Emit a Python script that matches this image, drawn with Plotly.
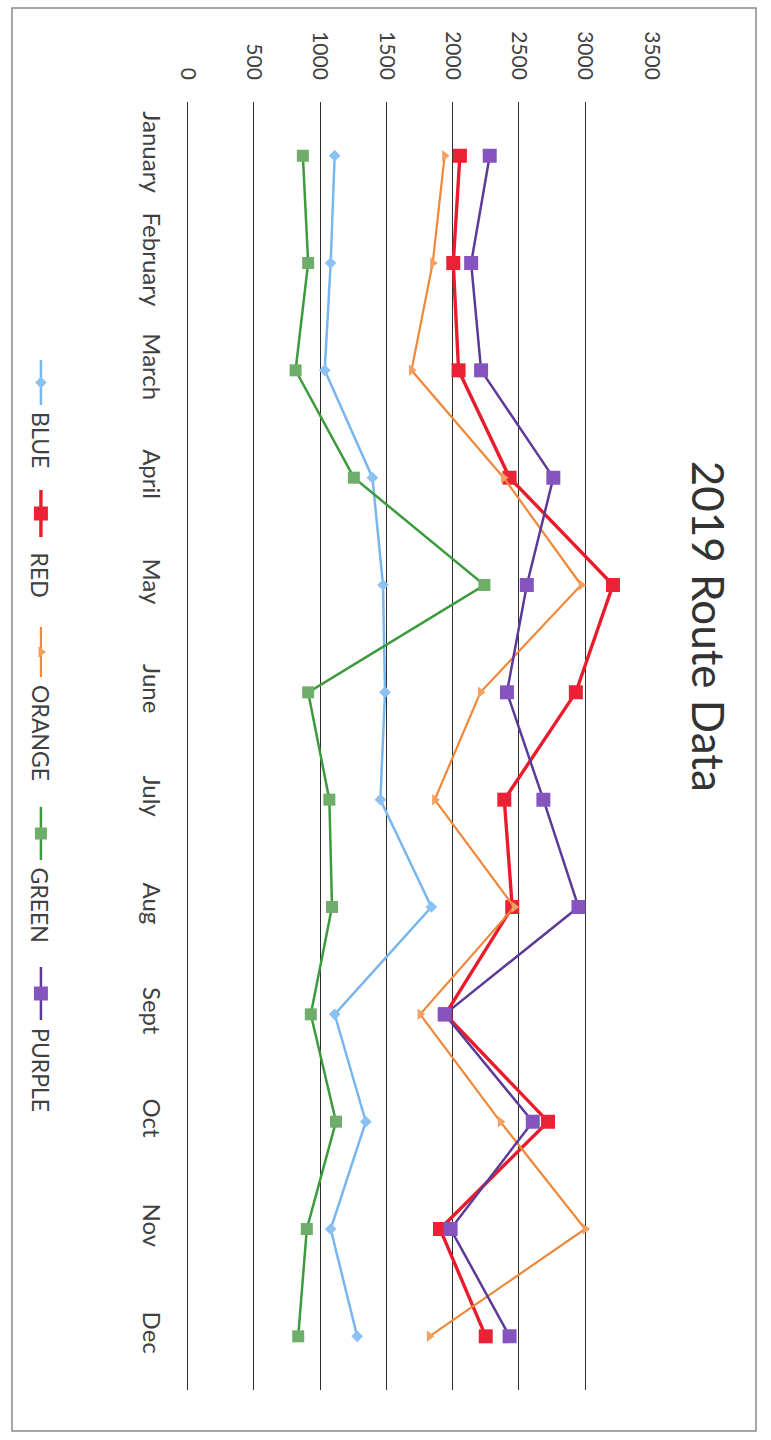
import plotly.graph_objects as go

months = ["January", "February", "March", "April", "May", "June",
          "July", "Aug", "Sept", "Oct", "Nov", "Dec"]
blue = [1110, 1080, 1035, 1395, 1475, 1490, 1455, 1840, 1110, 1345, 1080, 1280]
red = [2055, 2005, 2045, 2430, 3210, 2930, 2390, 2450, 1945, 2720, 1905, 2250]
orange = [1940, 1850, 1690, 2385, 2970, 2210, 1865, 2465, 1755, 2360, 3000, 1825]
green = [870, 910, 815, 1255, 2240, 910, 1070, 1090, 930, 1120, 900, 835]
purple = [2280, 2140, 2215, 2760, 2560, 2410, 2685, 2950, 1940, 2605, 1985, 2430]
value_ticks = [0, 500, 1000, 1500, 2000, 2500, 3000, 3500]
title_text = "2019 Route Data"

W, H = 771, 1440
FONT = "Lato"
TXT = "#404040"


def hx(px):
    # horizontal layout position (page px) -> figure px
    return (px - 10) / 0.97


series = [
    dict(name="BLUE", values=blue, line="#7ab6ee", marker="#8cc2f2", symbol="diamond", size=9, width=2.5),
    dict(name="RED", values=red, line="#e81c2c", marker="#ea2236", symbol="square", size=14, width=3.4),
    dict(name="ORANGE", values=orange, line="#ef8838", marker="#f3a060", symbol="triangle-right", size=10, width=2.2),
    dict(name="GREEN", values=green, line="#3d9a3d", marker="#6fad6a", symbol="square", size=12, width=2.5),
    dict(name="PURPLE", values=purple, line="#5b3a98", marker="#8654bf", symbol="square", size=14, width=2.5),
]

fig = go.Figure()
for s in series:
    fig.add_trace(go.Scatter(
        x=s["values"], y=months, mode="lines+markers", name=s["name"],
        line=dict(color=s["line"], width=s["width"]),
        marker=dict(symbol=s["symbol"], size=s["size"], color=s["marker"],
                    line=dict(width=0)),
        xaxis="x", yaxis="y", showlegend=False,
    ))

# legend drawn rotated, on a hidden pixel-space overlay
leg_x = hx(40)
leg_layout = [(360, 405, 410), (490, 537, 551), (627, 677, 683), (807, 860, 866), (967, 1020, 1026)]
annotations = []
for s, (a, b, t) in zip(series, leg_layout):
    fig.add_trace(go.Scatter(
        x=[leg_x, leg_x], y=[a, b], mode="lines", xaxis="x2", yaxis="y2",
        line=dict(color=s["line"], width=s["width"]), showlegend=False, hoverinfo="skip"))
    fig.add_trace(go.Scatter(
        x=[leg_x], y=[(a + b) / 2], mode="markers", xaxis="x2", yaxis="y2",
        marker=dict(symbol=s["symbol"], size=s["size"], color=s["marker"]),
        showlegend=False, hoverinfo="skip"))
    annotations.append(dict(
        x=leg_x, y=t, xref="x2", yref="y2", text=s["name"], textangle=90,
        showarrow=False, xanchor="center", yanchor="top",
        font=dict(family=FONT, size=23, color=TXT)))

annotations.append(dict(
    x=hx(710), y=626, xref="x2", yref="y2", text=title_text, textangle=90,
    showarrow=False, xanchor="center", yanchor="middle",
    font=dict(family=FONT, size=44, color="#333333")))

px_l, px_r, px_t, px_b = hx(187), hx(652), 102, 1390

fig.update_layout(
    width=W, height=H,
    margin=dict(l=0, r=0, t=0, b=0),
    paper_bgcolor="white", plot_bgcolor="rgba(0,0,0,0)",
    font=dict(family=FONT, color=TXT),
    xaxis=dict(
        domain=[px_l / W, px_r / W], range=[0, 3500], side="top",
        tickvals=value_ticks, ticktext=[str(v) for v in value_ticks],
        tickangle=90, tickfont=dict(size=21, color=TXT),
        showgrid=True, gridcolor="#2e2e2e", gridwidth=1,
        zeroline=True, zerolinecolor="#2e2e2e", zerolinewidth=1,
        showline=False, ticks="", ticklabelstandoff=18, anchor="y",
    ),
    yaxis=dict(
        domain=[1 - px_b / H, 1 - px_t / H], type="category",
        categoryorder="array", categoryarray=months,
        range=[11.5, -0.5], tickangle=90, tickfont=dict(size=24, color=TXT),
        showgrid=False, zeroline=False, showline=False, ticks="",
        ticklabelstandoff=20, anchor="x",
    ),
    xaxis2=dict(domain=[0, 1], range=[0, W], visible=False, anchor="y2", fixedrange=True),
    yaxis2=dict(domain=[0, 1], range=[H, 0], visible=False, anchor="x2", fixedrange=True),
    annotations=annotations,
    shapes=[dict(type="rect", xref="paper", yref="paper",
                 x0=1 / W, x1=min(hx(763), 770) / W, y0=1 - 1431 / H, y1=1 - 8 / H,
                 line=dict(color="#8a8a8a", width=1.5), fillcolor="rgba(0,0,0,0)")],
)

fig.write_html(
    "out.html",
    config={"displayModeBar": False},
    post_script="document.body.style.margin='0px';document.body.style.overflow='hidden';",
)
